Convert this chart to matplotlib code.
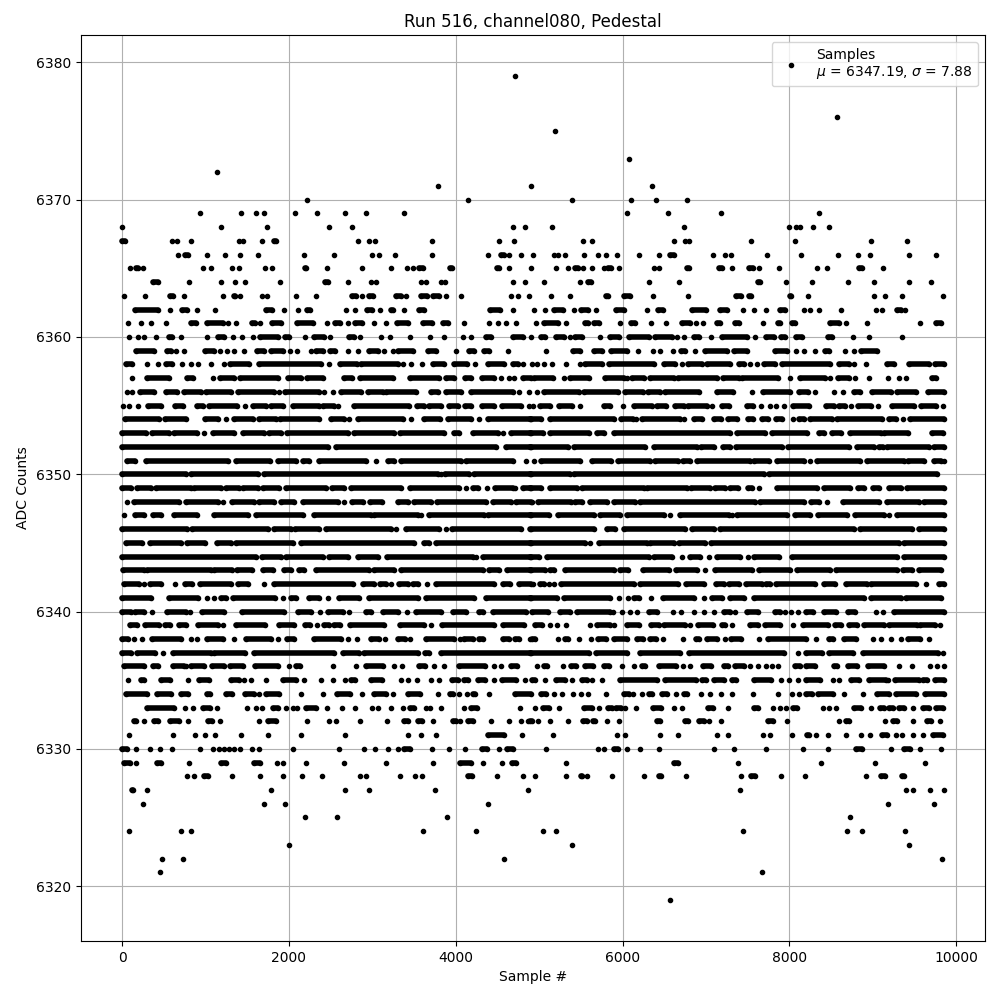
import matplotlib
matplotlib.use("Agg")
import matplotlib.pyplot as plt

# Sample numbers, one list per ADC level.
# A plain number is one visible dot; a (start, end) pair is an unbroken run of
# overlapping dots, since individual samples cannot be separated in the picture.
level_6379 = [4716]
level_6376 = [8568]
level_6375 = [5184]
level_6373 = [6072]
level_6372 = [1140]
level_6371 = [3792, 4904, 6348]
level_6370 = [2220, 4152, 5388, 6096, 6396, 6768]
level_6369 = [936, 1428, 1608, 1704, 2076, 2340, 2676, 2928, 3384, 6048, 6540, 7176, 8352]
level_6368 = [0, 1188, 1740, 2484, 2760, 4692, 4836, 5148, 6732, 7992, 8076, 8124, 8280, 8472]
level_6367 = [(0, 40), 596, 656, 828, 1404, 1452, 1680, (1824, 1848), 2832, 2964, 3036, 3720, 4524, 4704, 5520, 5628, 6612, 6744, 6792, 7536, 8064, 8976, 9408]
level_6366 = [672, (752, 792), 1020, 1236, 1416, 1632, 2184, 2544, 3000, 3084, 3276, 3720, 4392, (4548, 4576), 4644, 4788, 4924, 5172, 5220, 5304, 5532, 5700, 5796, 5928, 6192, 6432, (6564, 6612), 7080, 7224, 7296, 7728, 8136, 8580, 8820, 8964, 9432, 9756]
level_6365 = [96, (168, 192), 252, 972, 1068, 1320, 1404, 1716, 1800, (2188, 2204), 2460, 2880, 3228, 3420, 3492, (3564, 3612), (3936, 3960), (4500, 4524), 4644, 4904, 5196, 5340, (5424, 5460), 5520, 5628, 5772, (5820, 5856), 5952, 6372, 6432, (6768, 6792), (7152, 7188), 7308, (7512, 7560), 7632, 7872, 8328, 8448, (8832, 8868), 9120]
level_6364 = [(372, 432), 804, 1188, 1356, 1476, 1896, (2436, 2472), 2712, 2988, 3048, 3588, 3648, 3828, 3876, 4692, 4836, 5052, 5484, (5580, 5616), 6312, 6672, (7620, 7644), 7956, 8268, 8700, 9012, 9432, 9696]
level_6363 = [24, 276, (576, 612), 744, 1212, (1344, 1356), 1416, 1680, 1740, 2088, 2328, (2760, 2808), 2880, (2964, 3012), (3288, 3348), 3408, (3588, 3660), (3732, 3804), 3888, 4068, 4668, 4752, 4884, 5136, 5364, (5796, 5820), (6012, 6084), 6360, 6780, (7356, 7416), (7512, 7536), (8004, 8016), 8220, 9012, 9144, 9348, 9840]
level_6362 = [(160, 432), 576, (716, 780), 900, 1116, (1720, 1800), 1944, 2112, (2216, 2248), 2688, 2796, (2936, 2992), 3096, (3224, 3252), 3384, (3556, 3620), (4408, 4532), 4692, 4932, 5064, (5176, 5280), 5412, (5500, 5588), 5676, (5920, 6012), 6292, (6428, 6484), (6832, 7000), (7172, 7252), 7440, 7572, 7716, (7892, 7952), 8176, 8244, 8352, 8616, 9036, 9108, (9292, 9332), 9388]
level_6361 = [72, 228, 348, 528, (824, 884), (1016, 1204), 1272, 1368, (1556, 1592), 1656, (1800, 1904), (2096, 2284), 2460, (2556, 2616), 2712, (2792, 2872), 3024, 3168, (3296, 3424), (3604, 3712), (3844, 3904), 4104, 4404, 4512, 4608, 4728, 4956, (5052, 5220), 5316, (5552, 5580), (5652, 5712), 5964, (6104, 6152), 6336, 6524, (6712, 6804), 6884, 6960, (7132, 7172), (7352, 7392), 7680, (7860, 7892), (8032, 8072), (8484, 8592), 8676, 8932, 9564, (9752, 9812)]
level_6360 = [84, 192, 264, 408, (564, 604), 708, 1020, (1152, 1224), 1324, 1440, 1572, (1652, 1864), (1952, 2004), 2196, (2304, 2424), 2496, (2724, 2784), 2856, 3108, 3216, 3456, 3696, 3856, 4092, 4188, (4364, 4424), (4684, 4804), 4904, (5020, 5072), (5204, 5292), 5364, (5432, 5512), 5724, (5852, 5952), (6072, 6312), (6392, 6592), 6652, 6732, (6852, 6912), 7056, (7192, 7492), 7584, (7724, 7812), (7900, 7952), (8076, 8152), (8460, 8512), 8760, 8952, 9352]
level_6359 = [(164, 384), (544, 584), 644, 744, (992, 1104), 1172, 1252, 1336, 1456, (1612, 1696), (1784, 1924), 2012, 2096, 2264, (2324, 2404), (2492, 2552), 2704, 2832, (2964, 3064), 3144, 3244, (3312, 3484), (3664, 3764), 4000, (4164, 4224), (4344, 4404), 4632, 5076, (5404, 5492), (5652, 5752), (5860, 6052), 6180, 6364, 6444, 6608, (6700, 6752), 6872, (6992, 7252), (7340, 7492), (7832, 7972), 8084, 8172, 8304, (8432, 8472), 8672, 8772, (8860, 9044)]
level_6358 = [(44, 124), 296, 432, (524, 604), 724, 824, 912, 1064, 1224, (1296, 1524), (1644, 2384), 2484, (2612, 2816), (2864, 3304), 3372, 3464, 3592, (3724, 3864), (3984, 4136), 4232, (4384, 4584), (4684, 4744), 4812, 4912, 4972, 5052, 5152, 5316, 5492, (5552, 5752), (5832, 6372), (6492, 6632), 6712, (6784, 6952), (7012, 7292), (7392, 7452), 7524, 7612, (7692, 7832), (7912, 8492), (8592, 8712), 8772, 8920, (9172, 9252), (9432, 9672), (9744, 9852)]
level_6357 = [124, (296, 564), (784, 856), 1092, (1176, 1344), (1416, 1864), (1984, 2144), (2216, 2404), (2656, 2752), (2856, 3244), (3456, 3804), (3884, 3984), (4112, 4184), (4312, 4464), 4544, 4644, 4704, (4812, 4904), (4940, 5164), 5292, (5364, 5592), (5792, 6012), 6052, (6112, 6252), (6324, 6612), (6660, 7132), (7204, 7392), (7432, 7860), 8012, (8124, 8432), 8492, (8580, 8712), 8792, 8952, 9180, 9312, 9392, (9712, 9752)]
level_6356 = [64, 124, (216, 384), (524, 664), (744, 944), (1004, 1304), (1384, 1824), 1884, (1952, 2364), 2424, 2524, (2624, 2864), (2944, 3124), (3164, 3524), (3704, 3784), (3884, 4064), (4184, 4684), 4764, 4884, 4972, (5052, 5472), (5540, 5940), (6032, 6244), (6300, 6444), (6508, 6912), (7132, 7324), 7552, (7680, 8004), (8112, 8220), 8312, 8532, 8640, (8780, 8852), (8992, 9212), (9292, 9512), (9664, 9852)]
level_6355 = [16, 84, 192, (312, 464), (636, 736), (904, 964), (1044, 1376), 1476, (1564, 1724), (1784, 1924), (2044, 2364), (2404, 2536), 2592, (2784, 3444), (3532, 3616), (3684, 3824), (3924, 4024), (4112, 4184), (4312, 4464), (4552, 4784), 4884, 4924, (5004, 5132), (5232, 5392), 5484, (5780, 5844), 6000, (6132, 6352), (6412, 6524), (6632, 6732), (6780, 7012), 7068, (7192, 7276), (7492, 7564), 7660, 7772, 7836, 7932, (8040, 8232), (8440, 8532), (8592, 8672), 8740, (8820, 8972), 9060, (9232, 9492), (9572, 9752), 9844]
level_6354 = [(40, 444), (512, 764), (992, 1144), 1248, (1336, 1564), (1644, 1844), (1896, 2364), (2504, 2664), 2724, (2824, 3364), 3464, (3616, 3816), (3904, 4184), 4284, (4384, 4904), (4892, 5020), (5124, 5892), (5980, 6124), 6164, (6232, 6692), 6740, (6852, 6952), (7092, 7180), (7260, 7372), (7500, 7564), (7672, 7740), (7844, 7912), 8040, (8112, 8172), (8244, 8512), (8572, 9112), (9192, 9272), 9360, (9444, 9852)]
level_6353 = [(0, 284), (364, 564), (624, 896), 976, (1092, 1344), (1444, 1704), (1764, 1904), (1972, 2704), (2776, 3264), (3328, 3864), (3976, 4044), (4204, 4504), 4572, (4664, 4904), (4892, 5044), (5132, 5592), (5692, 5780), (5900, 7292), (7372, 7708), (7792, 8212), (8356, 8412), (8512, 8620), (8724, 9092), (9132, 9420), (9712, 9844)]
level_6352 = [(0, 2464), (2564, 4484), (4604, 4904), (4892, 5340), (5412, 6272), (6372, 6892), (6940, 7100), (7204, 7292), (7364, 7912), (7980, 8712), (8812, 9012), (9072, 9124), (9172, 9672), (9732, 9852)]
level_6351 = [(56, 152), (292, 1272), (1360, 1776), (1864, 2084), (2164, 2244), (2364, 2924), 3044, (3184, 3264), (3344, 4064), (4124, 4684), 4844, 4932, (5020, 5492), (5632, 5860), (5940, 6332), (6392, 6660), (6724, 6804), (6892, 7532), (7580, 7752), (7852, 8172), 8244, (8332, 8852), (8932, 9372), (9420, 9612), (9732, 9812), 9852]
level_6350 = [(0, 764), (824, 1624), (1696, 3784), 3824, (3876, 4164), (4224, 4904), (4892, 5364), (5412, 7692), (7752, 9772)]
level_6349 = [(0, 112), (176, 344), (404, 824), (864, 1184), (1244, 1404), (1452, 1624), (1692, 1884), (1964, 2444), (2512, 2664), (2744, 3344), (3452, 4044), 4128, (4204, 4264), 4372, (4476, 4684), 4716, (4804, 4904), (4892, 5020), (5124, 5452), (5512, 6252), (6292, 6772), (6824, 7052), (7112, 7232), (7292, 7380), (7500, 7552), 7632, (7852, 8332), (8412, 8732), (8820, 8892), (9004, 9072), (9192, 9332), (9412, 9852)]
level_6348 = [64, (144, 684), (764, 1144), 1212, (1312, 1584), (1644, 1824), (1904, 2064), (2164, 2584), 2664, (2752, 2884), (2976, 3112), (3304, 3424), (3496, 3704), (3776, 4364), (4444, 4664), (4724, 4904), 4912, (4980, 5380), (5432, 5512), (5612, 5812), (5892, 6152), (6204, 7592), (7652, 8172), (8260, 8352), 8452, (8644, 9072), (9172, 9552), (9612, 9852)]
level_6347 = [24, (152, 264), (376, 464), (624, 904), (1104, 1504), (1604, 2164), (2296, 2984), (3024, 3544), 3584, (3684, 4344), (4384, 4904), (4892, 5112), (5220, 5652), (5724, 5964), (6052, 6492), 6572, (6684, 7272), 7312, (7372, 7972), (8072, 8252), (8340, 8692), (8792, 9132), 9192, (9292, 9852)]
level_6346 = [(0, 776), (844, 1744), (1824, 2024), (2072, 2364), (2444, 3224), 3284, (3404, 3804), 3884, (3952, 4784), 4904, (4892, 5652), (5812, 5912), (6012, 6752), (6832, 7092), (7164, 8772), (8852, 9472), (9552, 9852)]
level_6345 = [(44, 244), (336, 704), (784, 992), (1132, 1304), (1368, 2044), (2144, 3504), (3616, 3684), (3764, 4904), (4892, 5552), 5612, (5712, 6292), (6332, 6612), (6680, 6992), (7056, 9312), (9372, 9852)]
level_6344 = [(0, 1604), (1672, 1904), (1964, 2404), (2484, 2704), (2824, 3064), (3176, 4204), 4244, (4324, 4904), (4892, 4992), (5092, 6312), (6380, 6592), 6712, (6804, 6932), 7032, (7132, 7412), 7500, (7572, 7872), (8032, 9292), (9372, 9852)]
level_6343 = [(16, 264), (304, 1064), (1104, 1312), (1372, 1552), (1684, 1812), (1936, 2024), (2124, 2176), (2324, 2964), (3024, 3264), (3344, 4324), (4404, 4524), (4612, 4904), (4892, 5068), (5132, 5180), (5312, 5892), (5964, 6060), (6244, 6552), (6644, 6892), 6984, (7112, 7552), (7632, 8012), (8092, 8492), (8556, 9292), (9356, 9472), (9552, 9820)]
level_6342 = [(24, 204), 264, (336, 464), 636, (752, 844), (936, 1304), (1384, 1504), 1704, (1816, 2764), (2884, 3016), (3096, 3164), 3224, (3324, 3424), (3492, 3544), 3660, (3764, 4456), (4568, 4648), (4764, 4904), 4924, (5004, 5052), 5112, 5172, (5260, 6132), (6212, 6668), (6756, 6972), (7116, 7212), (7272, 7392), (7476, 7672), (7716, 7772), (7836, 8312), (8412, 8552), (8676, 8932), (8972, 9512), 9640, (9792, 9852)]
level_6341 = [(0, 352), (564, 912), 1012, 1104, (1188, 1244), (1328, 1832), 1928, (2024, 2084), (2244, 2364), 2464, (2604, 2844), (2964, 3544), (3644, 4224), (4364, 4904), (4892, 5212), (5292, 5852), 5952, 6060, (6132, 6192), 6336, (6480, 6852), 6972, (7072, 7188), (7292, 7452), (7572, 8892), (8972, 9332), (9392, 9820)]
level_6340 = [(0, 104), (152, 264), 360, (544, 768), 816, (952, 1224), (1440, 1936), (2104, 2264), 2372, (2464, 2644), 2724, (2924, 2984), (3132, 3304), 3412, (3524, 3824), (3964, 4124), (4276, 4328), (4444, 4844), (4912, 5100), (5244, 5372), (5452, 5852), 5880, 5988, 6084, 6168, (6312, 6412), 6600, 6696, 6852, 6972, 7092, (7212, 7284), 7344, (7492, 7620), (7824, 7884), 7944, 8016, 8100, (8196, 8280), (8412, 8556), (8700, 8784), 9036, 9120, (9252, 9852)]
level_6339 = [(96, 184), (280, 444), (516, 576), (684, 764), (912, 1152), 1212, (1368, 1712), (1876, 2064), (2196, 2256), 2340, (2424, 2484), (2544, 2616), (2728, 3144), (3328, 3624), 3708, (3832, 4464), (4564, 4824), (4944, 5028), 5124, 5208, 5316, 5604, (5688, 5844), 5892, (6052, 6192), (6336, 6432), (6492, 6748), 6804, (6900, 7080), (7188, 7224), 7308, (7524, 7620), (7704, 7884), 8040, (8160, 8460), (8544, 8616), (8712, 8812), (8892, 9132), (9192, 9532), (9564, 9744), 9804]
level_6338 = [(0, 72), 144, 240, (360, 704), 824, 896, (1016, 1204), 1336, (1484, 1784), 1872, (1976, 2064), (2296, 2624), 2712, 2820, (2984, 3084), 3156, (3312, 3392), 3456, (3648, 3984), 4056, (4104, 4204), (4284, 4324), (4564, 4644), (4716, 4764), 4888, (4912, 4944), 5220, (5304, 5340), 5472, 5616, (5700, 5796), (5892, 6048), (6168, 6240), (6324, 6396), 6480, 6720, (6880, 6912), (7008, 7128), 7224, (7296, 7416), 7632, (7740, 8196), 8316, (8472, 8520), (8652, 8796), 9000, 9096, 9216, 9336, (9420, 9564), 9672]
level_6337 = [(0, 104), (184, 392), 492, (608, 1064), (1104, 1472), (1576, 2544), (2652, 2844), (2904, 3544), (3636, 3684), (3824, 4904), (4892, 5592), (5684, 6052), (6204, 6692), (6792, 7932), 8100, (8196, 8392), (8472, 8764), (8880, 9780), 9840]
level_6336 = [(24, 264), (376, 432), (616, 744), 768, (824, 984), (1080, 1224), (1296, 1452), (1596, 1864), 2004, (2088, 2136), 2532, 2808, (2928, 3132), 3264, 3360, (3564, 3636), 3744, 3864, (4044, 4356), 4464, 4548, (4668, 4740), 4968, (5052, 5088), 5280, (5376, 5436), (5544, 5640), (5772, 5832), 5988, 6132, (6228, 6264), (6432, 6636), 6720, 6804, (6960, 7056), (7212, 7260), (7344, 7452), 7528, 7620, 7716, 7788, 7860, (8064, 8124), (8196, 8304), (8532, 8568), (8700, 8808), (8940, 9132), 9312, 9468, 9684, 9768, 9852]
level_6335 = [72, (232, 268), (468, 576), 792, (924, 1044), (1308, 1404), 1464, 1548, 1728, (1932, 2088), 2184, 2388, 2532, 2676, (2748, 2796), (2988, 3120), 3348, 3432, 3540, 3708, 3804, (3960, 4032), (4104, 4152), (4272, 4356), 4464, (4560, 4728), 4836, (4912, 4944), 5064, (5196, 5304), 5388, (5508, 5568), 5628, 5748, (5964, 6408), (6504, 6876), (6948, 6996), (7092, 7212), (7308, 7356), (7572, 7776), 7896, 7992, 8100, (8196, 8364), 8520, 8592, (8736, 8832), (8952, 9156), 9180, (9264, 9552), (9600, 9648), (9744, 9852)]
level_6334 = [(44, 296), (424, 584), (712, 792), (1020, 1056), (1248, 1320), (1476, 1584), 1644, (1728, 1884), 2148, 2412, (2576, 2736), 2880, (3024, 3168), 3252, (3432, 3576), 3792, (3936, 3972), 4044, 4140, (4212, 4236), 4404, (4712, 4904), (5016, 5076), 5172, 5268, 5400, 5496, 5580, 5796, (6012, 6072), 6120, 6228, (6312, 6348), (6468, 6528), 6636, (6732, 6768), 6936, 7044, 7176, 7308, 7560, 7860, 8028, 8112, (8196, 8276), (8340, 8520), 8652, 8880, (9048, 9192), (9276, 9516), (9624, 9852)]
level_6333 = [(296, 624), 756, 852, (972, 1056), 1140, 1500, 1608, 1680, (1812, 1872), 1968, 2052, 2100, (2208, 2328), 2460, 2640, 2796, 3000, 3072, 3228, 3372, (3456, 3504), 3648, 3696, 3828, 4104, (4180, 4260), 4776, 4944, (5040, 5112), 5232, (5532, 5628), 5712, (5820, 5868), (5916, 5976), 6024, 6156, (6360, 6456), 6612, 6708, (7020, 7080), 7260, (7572, 7620), 7800, 7884, 7956, (8040, 8088), 8400, 8472, 8556, (8772, 8856), 8976, (9084, 9132), (9192, 9240), (9312, 9372), 9480, (9600, 9672), (9756, 9840)]
level_6332 = [(144, 168), 264, (384, 432), (576, 684), 792, (1032, 1080), 1176, 1644, (1752, 1848), 2220, 2484, 2568, 2856, 3180, (3384, 3432), (3552, 3600), 3732, (3972, 4008), 4056, (4152, 4212), 4428, 4644, 4788, 4872, (4892, 4912), 4980, 5124, 5340, (5520, 5568), (5640, 5664), 5808, 5952, (6408, 6444), (6744, 6780), (6912, 6980), 7040, 7176, (7740, 7800), 7968, 8592, (8676, 8712), 9144, (9240, 9288), 9480, (9648, 9696), 9804]
level_6331 = [84, 612, 876, 996, 1116, 1428, 1752, 2148, 2676, 3432, 3588, 3768, (4392, 4584), 4800, 5160, 5928, 6024, 6444, 6660, 7128, 7260, 7680, 7764, 8028, (8208, 8232), 8316, 8460, 8676, 8856, 8964, (9108, 9168), 9276, 9348, 9480, 9600, (9720, 9840)]
level_6330 = [(0, 56), 168, 336, 456, 600, 936, 1092, 1164, 1224, 1284, 1344, 1416, 1560, 1644, 2052, 2604, 2904, 3036, 3192, 3312, (3384, 3456), 3720, 3924, 4116, (4320, 4380), 4524, (4620, 4692), 5076, 5700, 5772, (5892, 5940), 6048, 6204, 6432, 7092, 7332, 7716, 8160, 8460, (8796, 8868), 9216, (9372, 9444), 9564, 9816]
level_6329 = [(24, 96), 168, (420, 468), 804, (1188, 1248), (1584, 1656), 1860, 1932, 2208, 2664, 3168, 3732, (4056, 4188), 4332, 4560, (4680, 4728), 5316, (6612, 6660), 7380, 8376, 9024, 9624]
level_6328 = [780, 864, (984, 1032), 1320, 1656, 1932, 2160, 2400, 2856, 2928, 3336, 3516, 3600, (4152, 4200), 4500, 4812, 4944, 5316, (5496, 5508), 5568, 5868, 6252, (6432, 6456), 6756, 7416, (7536, 7584), 7896, 8184, 8916, (9096, 9144), (9348, 9372)]
level_6327 = [(120, 132), 300, 1788, 2676, 2964, 3756, 4872, 7404, 9396, 9480, 9684, 9852]
level_6326 = [252, 1704, 1956, 4392, 9180, 9732]
level_6325 = [2196, 2580, 3900, 8724]
level_6324 = [84, 708, 828, 3612, 4248, 5040, 5196, 7440, 8688, 8868, 9384]
level_6323 = [2004, 5388, 9432]
level_6322 = [480, 732, 4584, 9828]
level_6321 = [456, 7668]
level_6319 = [6564]

adc_levels = [6379, 6376, 6375, 6373, 6372, 6371, 6370, 6369, 6368, 6367, 6366, 6365, 6364, 6363, 6362, 6361,
              6360, 6359, 6358, 6357, 6356, 6355, 6354, 6353, 6352, 6351, 6350, 6349, 6348, 6347, 6346, 6345,
              6344, 6343, 6342, 6341, 6340, 6339, 6338, 6337, 6336, 6335, 6334, 6333, 6332, 6331, 6330, 6329,
              6328, 6327, 6326, 6325, 6324, 6323, 6322, 6321, 6319]
level_samples = [level_6379, level_6376, level_6375, level_6373, level_6372, level_6371, level_6370, level_6369,
                 level_6368, level_6367, level_6366, level_6365, level_6364, level_6363, level_6362, level_6361,
                 level_6360, level_6359, level_6358, level_6357, level_6356, level_6355, level_6354, level_6353,
                 level_6352, level_6351, level_6350, level_6349, level_6348, level_6347, level_6346, level_6345,
                 level_6344, level_6343, level_6342, level_6341, level_6340, level_6339, level_6338, level_6337,
                 level_6336, level_6335, level_6334, level_6333, level_6332, level_6331, level_6330, level_6329,
                 level_6328, level_6327, level_6326, level_6325, level_6324, level_6323, level_6322, level_6321,
                 level_6319]

legend_label = "Samples\n$\\mu$ = 6347.19, $\\sigma$ = 7.88"

fig, ax = plt.subplots(figsize=(10, 10), dpi=100)

for level, items in zip(adc_levels, level_samples):
    singles = [i for i in items if not isinstance(i, tuple)]
    ax.plot(singles, [level] * len(singles), ".", color="black")
    for start, end in (i for i in items if isinstance(i, tuple)):
        ax.plot([start, end], [level, level], ".-", color="black", lw=4.0, solid_capstyle="round")

ax.plot([], [], ".", color="black", label=legend_label)
ax.set_title("Run 516, channel080, Pedestal")
ax.set_xlabel("Sample #")
ax.set_ylabel("ADC Counts")
ax.grid(True)
ax.legend(loc="upper right")
fig.subplots_adjust(left=0.081, right=0.985, top=0.965, bottom=0.059)
fig.savefig("out.png", dpi=100)
